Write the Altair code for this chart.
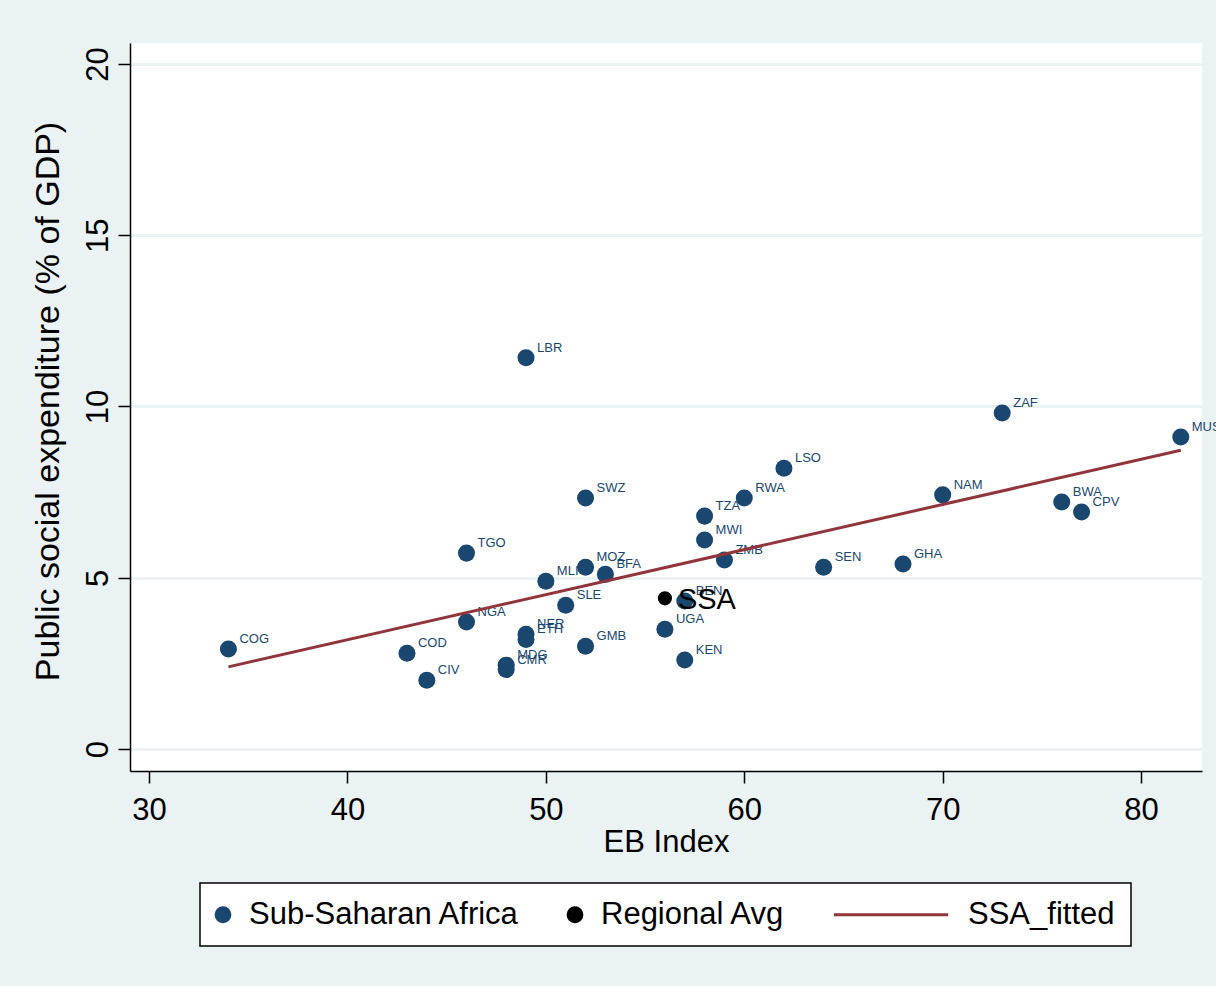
import altair as alt
import pandas as pd

# ---- data ----
countries = ["COG", "COD", "CIV", "NGA", "TGO", "MDG", "CMR", "NER", "ETH", "LBR",
             "MLI", "SLE", "MOZ", "SWZ", "GMB", "BFA", "BEN", "UGA", "KEN", "TZA",
             "MWI", "ZMB", "RWA", "LSO", "SEN", "GHA", "NAM", "ZAF", "BWA", "CPV", "MUS"]
eb_index = [34, 43, 44, 46, 46, 48, 48, 49, 49, 49,
            50, 51, 52, 52, 52, 53, 57, 56, 57, 58,
            58, 59, 60, 62, 64, 68, 70, 73, 76, 77, 82]
social_exp = [2.92, 2.80, 2.01, 3.71, 5.72, 2.45, 2.32, 3.35, 3.20, 11.42,
              4.90, 4.20, 5.31, 7.33, 3.00, 5.10, 4.32, 3.50, 2.60, 6.80,
              6.10, 5.52, 7.33, 8.20, 5.31, 5.40, 7.42, 9.81, 7.21, 6.92, 9.11]

avg_label = ["SSA"]
avg_eb = [56]
avg_exp = [4.40]

fit_eb = [34, 82]
fit_exp = [2.40, 8.72]

series_names = ["Sub-Saharan Africa", "Regional Avg", "SSA_fitted"]
series_colors = ["#1a476f", "#000000", "#90353b"]

x_ticks = [30, 40, 50, 60, 70, 80]
y_ticks = [0, 5, 10, 15, 20]

FONT = "Liberation Sans"

pts = pd.DataFrame({"country": countries, "eb": eb_index, "spend": social_exp,
                    "series": series_names[0]})
avg = pd.DataFrame({"label": avg_label, "eb": avg_eb, "spend": avg_exp,
                    "series": series_names[1]})
fit = pd.DataFrame({"eb": fit_eb, "spend": fit_exp, "series": series_names[2]})

is_line = "datum.value === 'SSA_fitted'"
legend = alt.Legend(
    title=None,
    orient="none",
    legendX=70,
    legendY=840,
    direction="horizontal",
    columns=3,
    columnPadding=42,
    padding=16,
    fillColor="white",
    strokeColor="black",
    labelFont=FONT,
    labelFontSize=31,
    labelColor="black",
    labelLimit=600,
    symbolSize=190,
    symbolStrokeWidth=3,
    symbolOpacity=1,
    symbolType={"expr": f"{is_line} ? 'M-8.3,0H8.3' : 'circle'"},
    symbolStrokeColor={"expr": f"{is_line} ? '#90353b' : 'transparent'"},
    symbolOffset={"expr": f"{is_line} ? 41.5 : -8.5"},
    labelOffset={"expr": f"{is_line} ? 61.5 : 10.5"},
)

color_leg = alt.Color("series:N",
                      scale=alt.Scale(domain=series_names, range=series_colors),
                      legend=legend)
color = alt.Color("series:N",
                  scale=alt.Scale(domain=series_names, range=series_colors),
                  legend=None)

xs = alt.Scale(domain=[29.04, 83.07], nice=False, zero=False)
ys = alt.Scale(domain=[-0.64, 20.61], nice=False, zero=False)

X = alt.X("eb:Q", scale=xs, title="EB Index",
          axis=alt.Axis(values=x_ticks, grid=False, labelAngle=0))
Y = alt.Y("spend:Q", scale=ys, title="Public social expenditure (% of GDP)",
          axis=alt.Axis(values=y_ticks, grid=True, gridColor="#eaf2f3", gridWidth=3,
                        labelAngle=270, labelAlign="center", labelBaseline="bottom",
                        labelPadding=4, titlePadding=17, titleFontSize=34,
                        titleY=358))

points = alt.Chart(pts).mark_circle(size=290, opacity=1).encode(x=X, y=Y, color=color_leg)
labels = alt.Chart(pts).mark_text(align="left", baseline="alphabetic", dx=11, dy=-6,
                                  fontSize=13, font=FONT, color="#1a476f").encode(
    x=X, y=Y, text="country:N")
avg_pt = alt.Chart(avg).mark_circle(size=200, opacity=1).encode(x=X, y=Y, color=color)
avg_lab = alt.Chart(avg).mark_text(align="left", baseline="middle", dx=13, dy=2,
                                   fontSize=29, font=FONT, color="black").encode(
    x=X, y=Y, text="label:N")
line = alt.Chart(fit).mark_line(strokeWidth=3).encode(x=X, y=Y, color=color)

chart = (
    alt.layer(points, labels, avg_pt, avg_lab, line)
    .properties(
        width=1072, height=728,
        padding={"left": 130, "top": 43, "right": 14, "bottom": 215},
        autosize=alt.AutoSizeParams(type="none"),
        background="#eaf2f3",
    )
    .configure_view(fill="white", strokeWidth=0)
    .configure_axis(
        domainColor="black", domainWidth=1.5,
        tickColor="black", tickWidth=1.5, tickSize=12,
        labelFont=FONT, labelFontSize=31, labelColor="black",
        titleFont=FONT, titleFontSize=31, titleFontWeight="normal", titleColor="black",
    )
    .configure_axisX(labelPadding=12, titlePadding=2)
    .configure_legend(strokeWidth=1.5, cornerRadius=0)
)

chart.save("out.html", embed_options={"renderer": "svg", "actions": False})
